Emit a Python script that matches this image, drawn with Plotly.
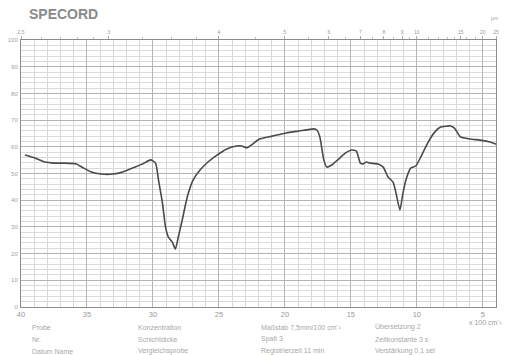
import plotly.graph_objects as go

# IR transmission spectrum (wavenumber in 100 cm^-1, transmission in %)
wavenumber = [39.70, 38.95, 38.20, 37.45, 36.70, 35.80, 35.28, 34.68, 33.93, 33.03,
              32.28, 31.53, 30.78, 30.18, 29.80, 29.58, 29.28, 29.05, 28.83, 28.53,
              28.30, 28.08, 27.78, 27.40, 26.95, 26.43, 25.83, 25.15, 24.40, 23.65,
              23.28, 22.90, 22.53, 21.93, 20.95, 19.90, 18.93, 17.80, 17.58, 17.35,
              17.05, 16.83, 16.45, 15.93, 15.40, 14.95, 14.58, 14.28, 14.05, 13.83,
              13.53, 12.93, 12.55, 12.18, 11.80, 11.58, 11.28, 11.05, 10.83, 10.45,
              10.08, 9.70, 9.18, 8.65, 8.20, 7.45, 7.15, 6.70, 5.95, 5.20, 4.45, 4.00]
transmission = [56.9, 55.8, 54.3, 53.9, 53.9, 53.6, 52.1, 50.6, 49.8, 49.8,
                50.6, 52.1, 53.6, 55.1, 53.9, 47.6, 39.0, 30.0, 26.2, 24.3,
                21.7, 26.2, 32.6, 41.2, 47.6, 51.3, 54.3, 56.9, 59.2, 60.3,
                60.3, 59.6, 60.7, 62.9, 64.0, 65.2, 65.9, 66.7, 66.3, 63.7,
                55.1, 52.4, 53.2, 55.4, 57.7, 58.8, 58.4, 53.9, 53.6, 54.3,
                53.9, 53.6, 52.4, 48.7, 46.8, 42.7, 36.3, 42.7, 47.6, 52.1,
                52.8, 56.2, 61.4, 65.5, 67.4, 67.8, 67.0, 63.7, 62.9, 62.5, 61.8, 61.0]

x_ticks = [40, 35, 30, 25, 20, 15, 10, 5]
y_ticks = [0, 10, 20, 30, 40, 50, 60, 70, 80, 90, 100]

# wavelength scale on top (micrometres)
wavelength_labels = [2.5, 3, 4, 5, 6, 7, 8, 9, 10, 15, 20, 25]
wavelength_minor = [2.6, 2.7, 2.8, 2.9, 3.25, 3.5, 3.75, 4.5, 5.5, 6.5, 7.5, 8.5, 9.5,
                    11, 12, 13, 14, 16, 18]

info_col1 = ["Probe", "Nr.", "Datum Name"]
info_col2 = ["Konzentration", "Schichtdicke", "Vergleichsprobe"]
info_col3 = ["Maßstab 7,5mm/100 cm⁻¹", "Spalt 3", "Registrierzeit 11 min"]
info_col4 = ["Übersetzung 2", "Zeitkonstante 3 s", "Verstärkung 0,1 sel"]

fig = go.Figure()
fig.add_trace(go.Scatter(x=wavenumber, y=transmission, mode="lines",
                         line=dict(color="#4a4a4a", width=1.6, shape="spline", smoothing=0.5),
                         hoverinfo="skip", showlegend=False))
# carrier trace for the top wavelength axis
fig.add_trace(go.Scatter(x=[40, 4], y=[None, None], xaxis="x2", mode="markers",
                         marker=dict(opacity=0), hoverinfo="skip", showlegend=False))

top_vals = [100.0 / w for w in wavelength_labels]
top_text = [("%g" % w) for w in wavelength_labels]

fig.update_layout(
    width=507, height=355,
    margin=dict(l=19, r=8, t=40, b=48),
    paper_bgcolor="white", plot_bgcolor="white",
    font=dict(family="Liberation Sans, Arial, sans-serif", color="#999999"),
    xaxis=dict(range=[40, 4], tickvals=x_ticks, ticktext=[str(v) for v in x_ticks],
               showgrid=True, gridcolor="#b4b4b4", gridwidth=1,
               minor=dict(dtick=1, showgrid=True, gridcolor="#d8d8d8", gridwidth=1),
               showline=True, linecolor="#8c8c8c", linewidth=1, mirror=True,
               ticks="", tickfont=dict(size=7.5, color="#9a9a9a"), zeroline=False,
               fixedrange=True),
    xaxis2=dict(range=[40, 4], overlaying="x", side="top", tickvals=top_vals,
                ticktext=top_text, ticks="outside", ticklen=3, tickcolor="#aaaaaa",
                tickfont=dict(size=5, color="#9a9a9a"), showgrid=False, showline=False,
                zeroline=False,
                minor=dict(tickvals=[100.0 / w for w in wavelength_minor], ticks="outside",
                           ticklen=2, tickcolor="#c0c0c0", showgrid=False)),
    yaxis=dict(range=[0, 100], tickvals=y_ticks, ticktext=[str(v) for v in y_ticks],
               showgrid=True, gridcolor="#b4b4b4", gridwidth=1,
               minor=dict(dtick=2, showgrid=True, gridcolor="#dadada", gridwidth=1),
               showline=True, linecolor="#8c8c8c", linewidth=1, mirror=True,
               ticks="", tickfont=dict(size=6, color="#a0a0a0"), zeroline=False,
               ticklabelstandoff=1),
)

annotations = [
    dict(text="<b>SPECORD</b>", x=25, y=14, showarrow=False,
         xanchor="left", yanchor="middle", font=dict(size=14, color="#8a8a8a",
                                                     family="Liberation Sans, Arial")),
    dict(text="µm", x=497, y=18, showarrow=False, xanchor="center", yanchor="middle",
         font=dict(size=5, color="#a0a0a0")),
    dict(text="x 100 cm⁻¹", x=507, y=322, showarrow=False, xanchor="right",
         yanchor="middle", font=dict(size=7, color="#a0a0a0")),
]
for col_x, col in [(28, info_col1), (135, info_col2), (260, info_col3), (375, info_col4)]:
    for i, t in enumerate(col):
        annotations.append(dict(text=t, x=col_x, y=327 + 12 * i, showarrow=False,
                                xanchor="left", yanchor="middle",
                                font=dict(size=7, color="#a8a8a8")))
# convert pixel positions to paper coordinates
for a in annotations:
    a["xref"] = "paper"
    a["yref"] = "paper"
    a["x"] = (a["x"] - 19) / 480.0
    a["y"] = (307 - a["y"]) / 267.0
fig.update_layout(annotations=annotations)

fig.write_html("out.html")
